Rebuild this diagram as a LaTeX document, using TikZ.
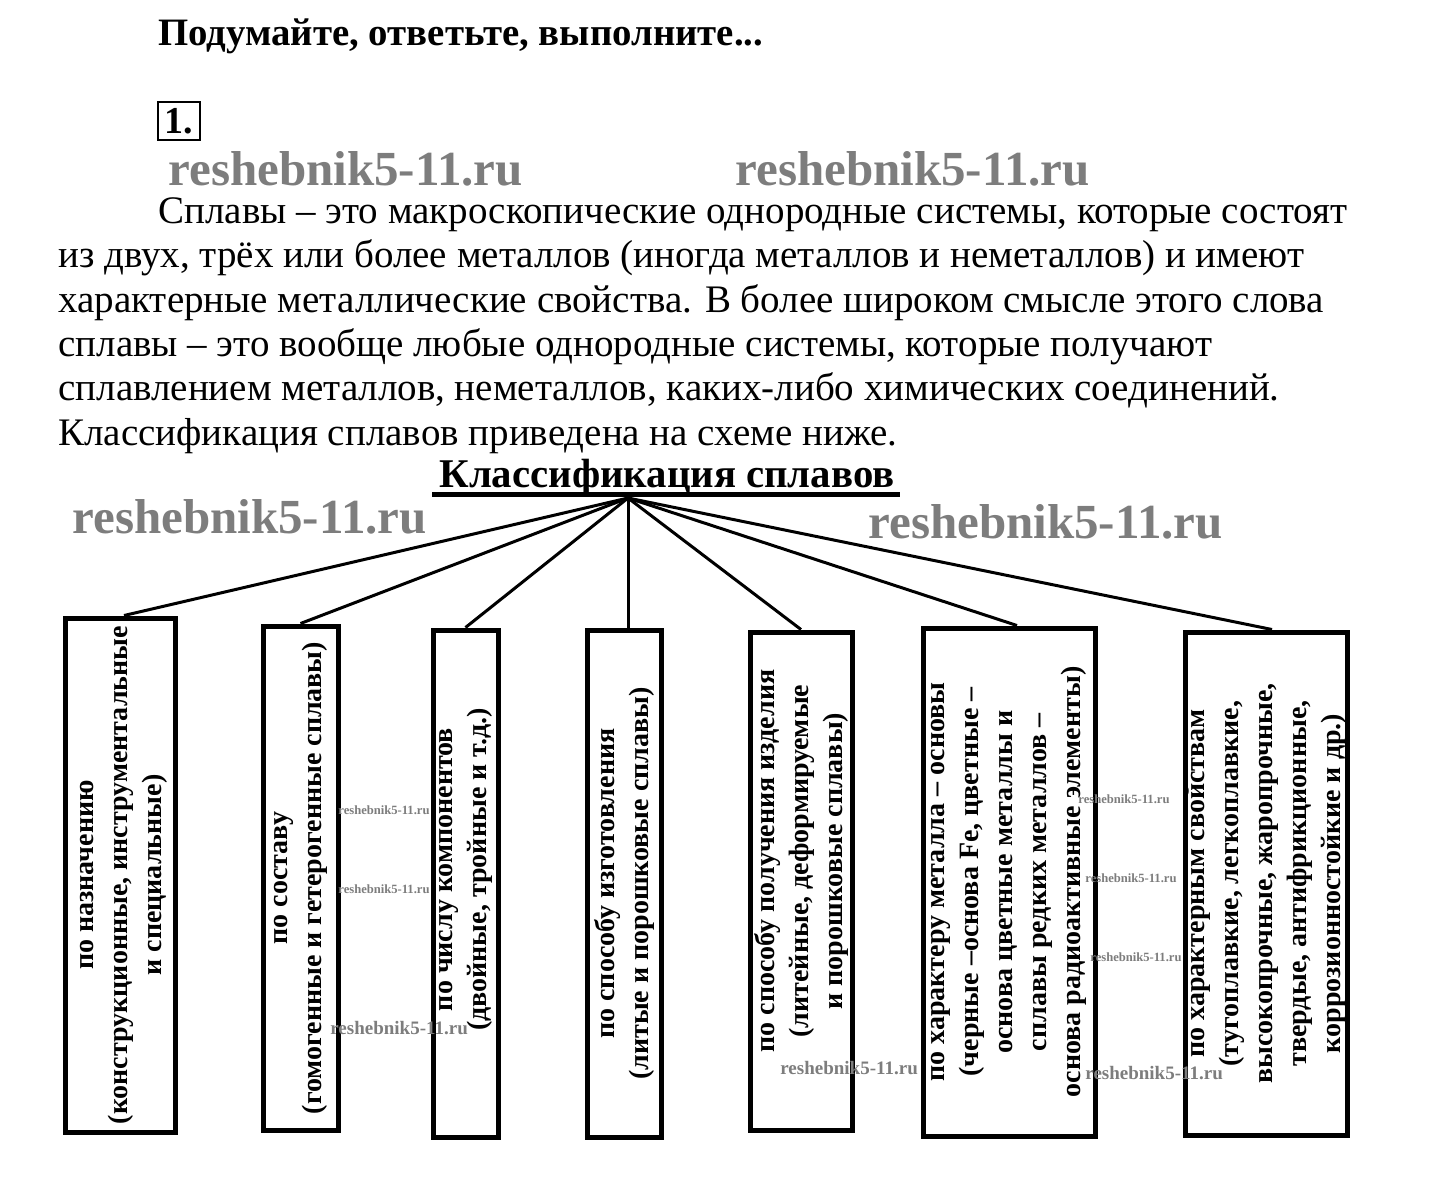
\documentclass[tikz,border=0pt]{standalone}
\usepackage{fontspec}
\setmainfont{Liberation Serif}
\definecolor{wmgray}{RGB}{125,125,125}
\begin{document}
\begin{tikzpicture}[x={(0.5pt,0)}, y={(0,-0.5pt)},
  box/.style={draw, line width=2.5pt, inner sep=0pt},
  conn/.style={line width=1.5pt},
  lbl/.style={rotate=90, align=center, font=\bfseries\fontsize{14}{17}\selectfont, inner sep=0pt},
  body/.style={anchor=base west, inner sep=0pt, font=\fontsize{19.5}{22}\selectfont},
  head/.style={anchor=base west, inner sep=0pt, font=\bfseries\fontsize{19.4}{22}\selectfont},
  wm/.style={text=wmgray, font=\bfseries\fontsize{24.5}{25}\selectfont, anchor=base west, inner sep=0pt},
  wms/.style={text=wmgray, font=\bfseries\fontsize{6.3}{7}\selectfont, anchor=west, inner sep=0pt},
  wmm/.style={text=wmgray, font=\bfseries\fontsize{9.5}{10}\selectfont, anchor=west, inner sep=0pt},
]
\useasboundingbox[fill=white] (0,0) rectangle (1437,1190);

% heading
\node[head] (h) at (158,45) {Подумайте, ответьте, выполните...};
\node[draw, line width=1pt, minimum width=21pt, minimum height=19pt, inner sep=0pt,
      font=\bfseries\fontsize{19}{22}\selectfont] (num) at (179,121) {1.};

% watermarks (top)
\node[wm] (w1) at (168,185) {reshebnik5-11.ru};
\node[wm] (w2) at (735,185) {reshebnik5-11.ru};

% paragraph
\node[body] (p1) at (158,223) {Сплавы – это макроскопические однородные системы, которые состоят};
\node[body] (p2) at (58,267) {из двух, трёх или более металлов (иногда металлов и неметаллов) и имеют};
\node[body] (p3) at (58,312) {характерные металлические свойства. В более широком смысле этого слова};
\node[body] (p4) at (58,356) {сплавы – это вообще любые однородные системы, которые получают};
\node[body] (p5) at (58,400) {сплавлением металлов, неметаллов, каких-либо химических соединений.};
\node[body] (p6) at (58,445) {Классификация сплавов приведена на схеме ниже.};

% title
\node[head, anchor=base, font=\bfseries\fontsize{20.4}{22}\selectfont] (t) at (667,487) {Классификация сплавов};
\coordinate (barl) at (432,494);
\coordinate (barr) at (900,494);
\draw[line width=2.5pt] (barl) -- (barr);
\coordinate (hub) at (628,498);

\node[wm] (w3) at (72,533) {reshebnik5-11.ru};
\node[wm] (w4) at (868,538) {reshebnik5-11.ru};

% boxes
\node[box, minimum width=55pt, minimum height=257pt] (b1) at (120,875) {};
\node[box, minimum width=37.5pt, minimum height=252pt] (b2) at (300.5,878) {};
\node[box, minimum width=32.5pt, minimum height=253.5pt] (b3) at (465.5,883.5) {};
\node[box, minimum width=37pt, minimum height=253.5pt] (b4) at (624,883.5) {};
\node[box, minimum width=51pt, minimum height=249pt] (b5) at (801,881) {};
\node[box, minimum width=86pt, minimum height=254pt] (b6) at (1009,882) {};
\node[box, minimum width=81pt, minimum height=251.5pt] (b7) at (1266,883.5) {};

% connectors
\draw[conn] (hub) -- ([xshift=2pt]b1.north);
\draw[conn] (hub) -- (b2.north);
\draw[conn] (hub) -- (b3.north);
\draw[conn] (hub) -- (hub |- b4.north);
\draw[conn] (hub) -- (b5.north);
\draw[conn] (hub) -- ([xshift=4pt]b6.north);
\draw[conn] (hub) -- ([xshift=3pt]b7.north);

% labels
\node[lbl] (l1) at ([xshift=2pt]b1.center) {по назначению\\(конструкционные, инструментальные\\и специальные)};
\node[lbl] (l2) at (b2.center) {по составу\\(гомогенные и гетерогенные сплавы)};
\node[lbl] (l3) at ([yshift=7pt]b3.center) {по числу компонентов\\(двойные, тройные и т.д.)};
\node[lbl] (l4) at (b4.center) {по способу изготовления\\(литые и порошковые сплавы)};
\node[lbl] (l5) at ([yshift=10pt]b5.center) {по способу получения изделия\\(литейные, деформируемые\\и порошковые сплавы)};
\node[lbl] (l6) at (b6.center) {по характеру металла – основы\\(черные –основа Fe, цветные –\\основа цветные металлы и\\сплавы редких металлов –\\основа радиоактивные элементы)};
\node[lbl] (l7) at (b7.center) {по характерным свойствам\\(тугоплавкие, легкоплавкие,\\высокопрочные, жаропрочные,\\твердые, антифрикционные,\\коррозионностойкие и др.)};

% small watermarks
\node[wms] (s1) at (338,810) {reshebnik5-11.ru};
\node[wms] (s2) at (338,889) {reshebnik5-11.ru};
\node[wmm] (s3) at (330,1028) {reshebnik5-11.ru};
\node[wmm] (s4) at (780,1068) {reshebnik5-11.ru};
\node[wms] (s5) at (1078,799) {reshebnik5-11.ru};
\node[wms] (s6) at (1085,878) {reshebnik5-11.ru};
\node[wms] (s7) at (1090,957) {reshebnik5-11.ru};
\node[wmm] (s8) at (1085,1073) {reshebnik5-11.ru};
\end{tikzpicture}
\end{document}
